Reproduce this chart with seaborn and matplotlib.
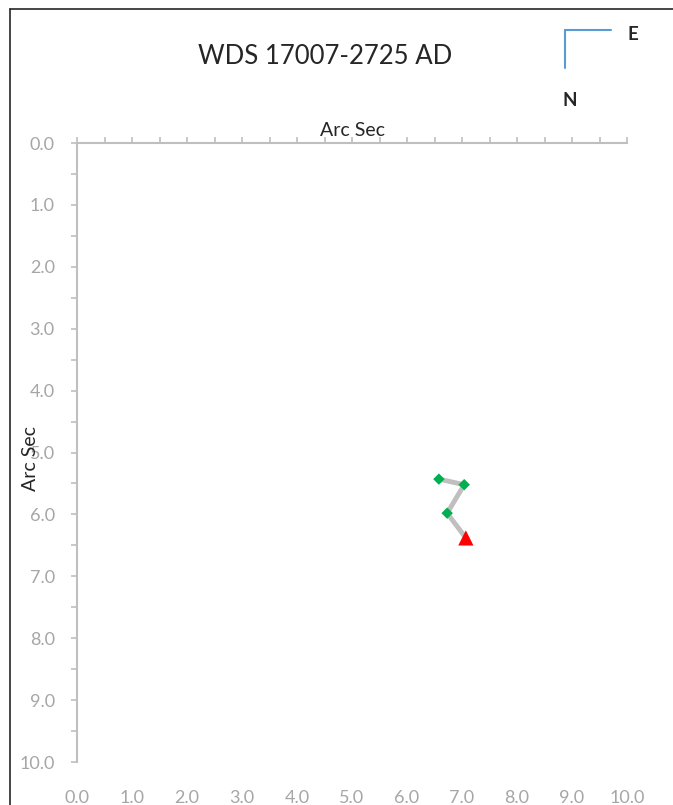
import numpy as np
import pandas as pd
import seaborn as sns
import matplotlib.pyplot as plt
from matplotlib.lines import Line2D
from matplotlib.ticker import MultipleLocator, FormatStrFormatter

# measured positions (arc sec)
obs_x = [6.58, 7.04, 6.73]
obs_y = [5.43, 5.52, 5.98]
last_x = [7.07]
last_y = [6.38]
title = "WDS 17007-2725 AD"

df = pd.DataFrame({'x': obs_x + last_x, 'y': obs_y + last_y})

sns.set_style('white')
plt.rcParams['font.family'] = ['Lato', 'DejaVu Sans']

fig = plt.figure(figsize=(6.73, 8.05), dpi=100)
ax = fig.add_axes([77 / 673, 1 - 762 / 805, 550 / 673, 619 / 805])

grey = '#BFBFBF'
sns.lineplot(data=df, x='x', y='y', sort=False, color=grey, lw=3.5, ax=ax, zorder=2)
sns.scatterplot(x=obs_x, y=obs_y, marker='D', color='#00B050', s=34,
                edgecolor='none', ax=ax, zorder=3)
sns.scatterplot(x=last_x, y=last_y, marker='^', color='#FF0000', s=120,
                edgecolor='none', ax=ax, zorder=3)

ax.set_xlim(0, 10)
ax.set_ylim(10, 0)
ax.xaxis.set_major_locator(MultipleLocator(1))
ax.xaxis.set_minor_locator(MultipleLocator(0.5))
ax.yaxis.set_major_locator(MultipleLocator(1))
ax.yaxis.set_minor_locator(MultipleLocator(0.5))
ax.xaxis.set_major_formatter(FormatStrFormatter('%.1f'))
ax.yaxis.set_major_formatter(FormatStrFormatter('%.1f'))

for s in ['bottom', 'right']:
    ax.spines[s].set_visible(False)
for s in ['top', 'left']:
    ax.spines[s].set_color(grey)
    ax.spines[s].set_linewidth(1.5)

ax.tick_params(axis='x', which='both', top=True, bottom=False, labeltop=False,
               labelbottom=True, direction='out', color=grey, width=1.2, length=4)
ax.tick_params(axis='x', which='major', pad=16, labelsize=13, labelcolor='#A6A6A6')
ax.tick_params(axis='y', which='both', left=True, right=False, direction='out',
               color=grey, width=1.2, length=4)
ax.tick_params(axis='y', which='major', pad=12, labelsize=13, labelcolor='#A6A6A6')
ax.set_xlabel('')
ax.set_ylabel('')

fig.text(352 / 673, 1 - 130 / 805, 'Arc Sec', ha='center', va='center',
         fontsize=14, color='#262626')
fig.text(30 / 673, 1 - 458 / 805, 'Arc Sec', ha='center', va='center',
         rotation=90, fontsize=14, color='#262626')
fig.text(325 / 673, 1 - 57 / 805, title, ha='center', va='center',
         fontsize=18.5, color='#262626')

# compass
blue = '#5B9BD5'
fig.add_artist(Line2D([565 / 673, 611 / 673], [1 - 30 / 805, 1 - 30 / 805],
                      color=blue, lw=1.5, transform=fig.transFigure))
fig.add_artist(Line2D([565 / 673, 565 / 673], [1 - 30 / 805, 1 - 68 / 805],
                      color=blue, lw=1.5, transform=fig.transFigure))
fig.text(633 / 673, 1 - 34 / 805, 'E', ha='center', va='center',
         fontsize=13.5, fontweight='bold', color='#262626')
fig.text(570 / 673, 1 - 100 / 805, 'N', ha='center', va='center',
         fontsize=13.5, fontweight='bold', color='#262626')

# chart frame (top and left edges)
fig.add_artist(Line2D([10 / 673, 1.0], [1 - 9 / 805, 1 - 9 / 805],
                      color='#262626', lw=1.2, transform=fig.transFigure))
fig.add_artist(Line2D([10 / 673, 10 / 673], [1 - 9 / 805, 0.0],
                      color='#262626', lw=1.2, transform=fig.transFigure))

fig.savefig('out.png', dpi=100)
